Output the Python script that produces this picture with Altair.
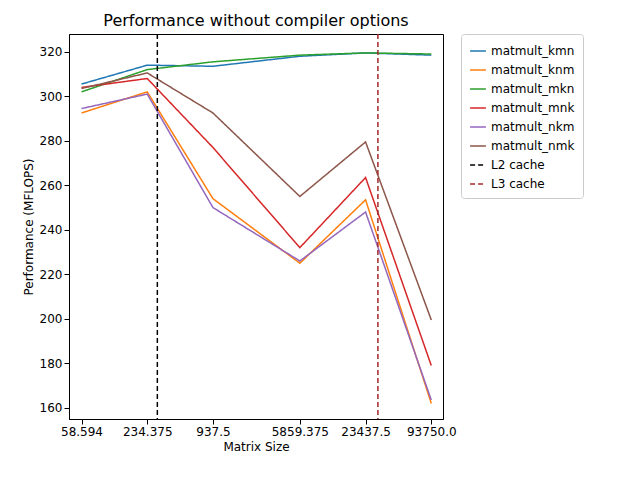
import altair as alt
import pandas as pd

sizes = [58.594, 234.375, 937.5, 5859.375, 23437.5, 93750.0]
size_labels = ["58.594", "234.375", "937.5", "5859.375", "23437.5", "93750.0"]

kmn = [305.5, 314.0, 313.5, 318.0, 319.5, 318.5]
knm = [292.5, 302.0, 254.0, 225.0, 253.5, 162.0]
mkn = [302.0, 312.0, 315.5, 318.5, 319.5, 319.0]
mnk = [304.0, 308.0, 277.0, 232.0, 263.5, 179.0]
nkm = [294.5, 301.0, 250.0, 226.0, 248.0, 163.5]
nmk = [303.5, 310.5, 292.5, 255.0, 279.5, 199.5]

cache_names = ["L2 cache", "L3 cache"]
cache_sizes = [290.0, 30400.0]

series = {
    "matmult_kmn": kmn, "matmult_knm": knm, "matmult_mkn": mkn,
    "matmult_mnk": mnk, "matmult_nkm": nkm, "matmult_nmk": nmk,
}
rows = [{"size": s, "perf": v, "series": k}
        for k, vals in series.items() for s, v in zip(sizes, vals)]
df = pd.DataFrame(rows)
cache_df = pd.DataFrame({"size": cache_sizes, "series": cache_names})

names = list(series) + cache_names
colors = ["#1f77b4", "#ff7f0e", "#2ca02c", "#d62728", "#9467bd", "#8c564b",
          "black", "#a52a2a"]
dashes = [[1, 0]] * 6 + [[5, 3], [5, 3]]

label_expr = " : ".join(
    f"datum.value < {s * 1.01} && datum.value > {s * 0.99} ? '{l}'"
    for s, l in zip(sizes, size_labels)) + " : ''"

xscale = alt.Scale(type="log", domain=[45, 120000], nice=False)
color = alt.Color("series:N", scale=alt.Scale(domain=names, range=colors),
                  legend=alt.Legend(title=None, labelFontSize=12, symbolType="stroke",
                                    symbolSize=250, rowPadding=4,
                                    strokeColor="#ccc", padding=8, cornerRadius=3))
dash = alt.StrokeDash("series:N", scale=alt.Scale(domain=names, range=dashes))

lines = alt.Chart(df).mark_line(strokeWidth=1.5).encode(
    x=alt.X("size:Q", scale=xscale,
            axis=alt.Axis(values=sizes, labelExpr=label_expr, grid=False,
                          title="Matrix Size", titleFontWeight="normal",
                          labelFlush=False, labelOverlap=False)),
    y=alt.Y("perf:Q", scale=alt.Scale(domain=[155, 328], nice=False),
            axis=alt.Axis(values=list(range(160, 330, 20)), grid=False,
                          title="Performance (MFLOPS)", titleFontWeight="normal")),
    color=color, strokeDash=dash,
)
rules = alt.Chart(cache_df).mark_rule(strokeWidth=1.5).encode(
    x="size:Q", color=color, strokeDash=dash,
)

chart = (lines + rules).properties(
    width=374, height=385,
    padding={"left": 14, "top": 5, "right": 5, "bottom": 5},
    title=alt.TitleParams("Performance without compiler options", fontSize=16,
                          fontWeight="normal"),
).configure(font="DejaVu Sans").configure_view(stroke="black").configure_axis(
    domainColor="black", tickColor="black", labelFontSize=12, titleFontSize=12,
    labelColor="black", titleColor="black",
)

chart.save("out.html", embed_options={"renderer": "svg", "actions": False})
